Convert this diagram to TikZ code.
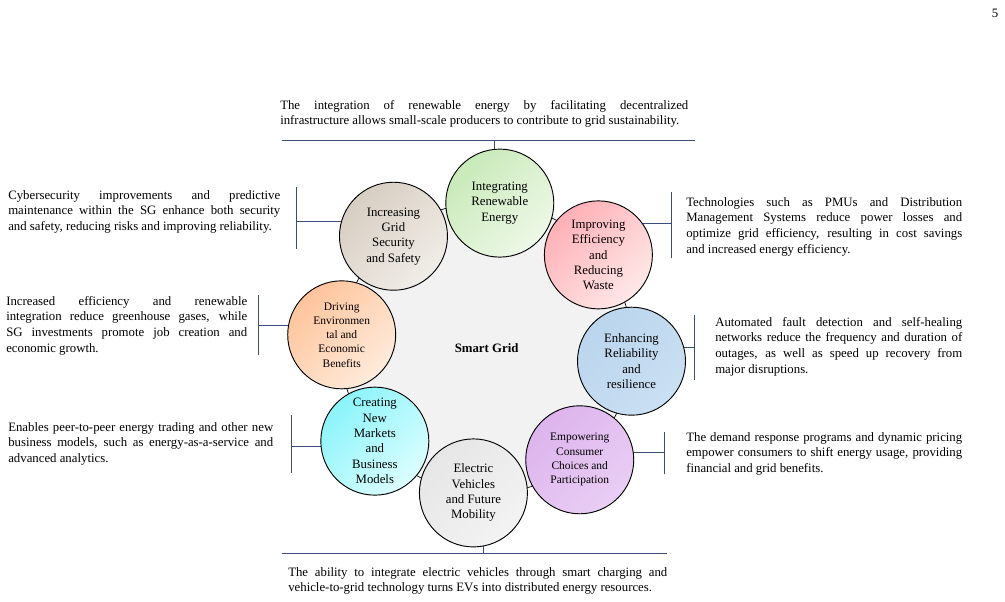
\documentclass[tikz,border=0pt]{standalone}
\usepackage{fontspec}
\setmainfont{Liberation Serif}
\usepackage{xcolor}
\usetikzlibrary{positioning,calc}

\definecolor{barblue}{RGB}{59,78,122}
\definecolor{ringgray}{RGB}{242,242,242}
\definecolor{greenA}{RGB}{200,234,184}\definecolor{greenB}{RGB}{238,248,232}
\definecolor{pinkA}{RGB}{255,176,182}\definecolor{pinkB}{RGB}{255,232,232}
\definecolor{blueA}{RGB}{186,213,237}\definecolor{blueB}{RGB}{202,224,243}
\definecolor{purpleA}{RGB}{221,180,237}\definecolor{purpleB}{RGB}{233,206,244}
\definecolor{greyA}{RGB}{230,230,230}\definecolor{greyB}{RGB}{243,243,243}
\definecolor{cyanA}{RGB}{138,244,250}\definecolor{cyanB}{RGB}{220,254,255}
\definecolor{orangeA}{RGB}{255,196,155}\definecolor{orangeB}{RGB}{255,235,220}
\definecolor{taupeA}{RGB}{215,206,194}\definecolor{taupeB}{RGB}{241,237,232}

\hyphenpenalty=10000
\tolerance=9999
\hbadness=10000

\begin{document}
\begin{tikzpicture}[
  x=0.75pt, y=-0.75pt,
  every node/.style={font=\fontsize{9.6}{11.5}\selectfont},
  topic/.style={draw, circle, line width=0.7pt, minimum size=81pt,
                inner sep=0pt, align=center},
  shadepair/.style 2 args={top color=#1, bottom color=#2, shading angle=45},
  smalltext/.style={font=\fontsize{8.6}{10.7}\selectfont},
  desc/.style={anchor=north west, inner sep=0pt, align=justify, text width=#1,
               font=\fontsize{9.6}{11.75}\selectfont},
  bar/.style={draw=barblue, line width=0.65pt}
]
\useasboundingbox (0,0) rectangle (1005,601);

% hub
\coordinate (ring) at (486.6,348);
\node[draw, circle, fill=ringgray, line width=0.5pt, minimum size=218.25pt, inner sep=0pt,
      font=\fontsize{9.6}{11.6}\selectfont\bfseries] (sg) at (ring) {Smart Grid};

\coordinate (p1) at ($(ring)+(-84.8:145.5)$);
\coordinate (p2) at ($(ring)+(-39.8:145.5)$);
\coordinate (p3) at ($(ring)+(5.2:145.5)$);
\coordinate (p4) at ($(ring)+(50.2:145.5)$);
\coordinate (p5) at ($(ring)+(95.2:145.5)$);
\coordinate (p6) at ($(ring)+(140.2:145.5)$);
\coordinate (p7) at ($(ring)+(185.2:145.5)$);
\coordinate (p8) at ($(ring)+(230.2:145.5)$);

% brackets
\coordinate (b1) at (494,140);
\coordinate (b2) at (671,223);
\coordinate (b3) at (694,347);
\coordinate (b4) at (664,452);
\coordinate (b5) at (483,553);
\coordinate (b6) at (291,446);
\coordinate (b7) at (258,325);
\coordinate (b8) at (296,221);

\draw[bar] (282,140) -- (695,140);
\draw[bar] (671,192) -- (671,258);
\draw[bar] (694,315) -- (694,380);
\draw[bar] (664,432) -- (664,474);
\draw[bar] (282,553) -- (667,553);
\draw[bar] (291,415) -- (291,473);
\draw[bar] (258,295) -- (258,355);
\draw[bar] (296,187) -- (296,249);

\draw[bar] (b1) -- (b1 |- p1);
\draw[bar] (b2) -- (b2 -| p2);
\draw[bar] (b3) -- (b3 -| p3);
\draw[bar] (b4) -- (b4 -| p4);
\draw[bar] (b5) -- (b5 |- p5);
\draw[bar] (b6) -- (b6 -| p6);
\draw[bar] (b7) -- (b7 -| p7);
\draw[bar] (b8) -- (b8 -| p8);

% topics
\node[topic, shadepair={greenA}{greenB}]   (c1) at (p1) {Integrating\\Renewable\\Energy};
\node[topic, shadepair={pinkA}{pinkB}]     (c2) at (p2) {Improving\\Efficiency\\and\\Reducing\\Waste};
\node[topic, shadepair={blueA}{blueB}]     (c3) at (p3) {Enhancing\\Reliability\\and\\resilience};
\node[topic, smalltext, shadepair={purpleA}{purpleB}] (c4) at (p4) {Empowering\\Consumer\\Choices and\\Participation};
\node[topic, shadepair={greyA}{greyB}]     (c5) at (p5) {Electric\\Vehicles\\and Future\\Mobility};
\node[topic, shadepair={cyanA}{cyanB}]     (c6) at (p6) {Creating\\New\\Markets\\and\\Business\\Models};
\node[topic, smalltext, shadepair={orangeA}{orangeB}] (c7) at (p7) {Driving\\Environmen\\tal and\\Economic\\Benefits};
\node[topic, shadepair={taupeA}{taupeB}]   (c8) at (p8) {Increasing\\Grid\\Security\\and Safety};

% descriptions
\node[desc=306pt] (d1) at (280,100) {The integration of renewable energy by facilitating decentralized\linebreak infrastructure allows small-scale producers to contribute to grid sustainability.};
\node[desc=207pt] (d2) at (686,197) {Technologies such as PMUs and Distribution\linebreak Management Systems reduce power losses and\linebreak optimize grid efficiency, resulting in cost savings\linebreak and increased energy efficiency.};
\node[desc=185.25pt] (d3) at (715,317) {Automated fault detection and self-healing\linebreak networks reduce the frequency and duration of\linebreak outages, as well as speed up recovery from\linebreak major disruptions.};
\node[desc=207pt] (d4) at (686,432) {The demand response programs and dynamic pricing\linebreak empower consumers to shift energy usage, providing\linebreak financial and grid benefits.};
\node[desc=284.25pt] (d5) at (288,567) {The ability to integrate electric vehicles through smart charging and\linebreak vehicle-to-grid technology turns EVs into distributed energy resources.};
\node[desc=198.75pt] (d6) at (8,422) {Enables peer-to-peer energy trading and other new\linebreak business models, such as energy-as-a-service and\linebreak advanced analytics.};
\node[desc=180.75pt] (d7) at (6,296) {Increased efficiency and renewable\linebreak integration reduce greenhouse gases, while\linebreak SG investments promote job creation and\linebreak economic growth.};
\node[desc=204pt] (d8) at (8,190) {Cybersecurity improvements and predictive\linebreak maintenance within the SG enhance both security\linebreak and safety, reducing risks and improving reliability.};

\node (pg) at (995,13) {5};
\end{tikzpicture}
\end{document}
